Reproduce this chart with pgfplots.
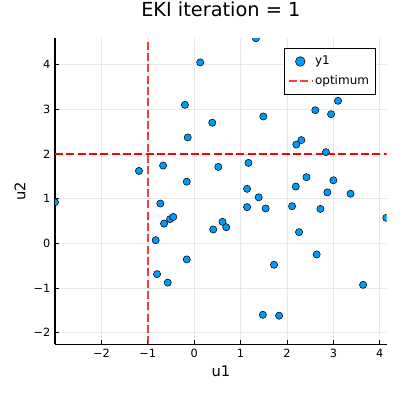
\documentclass[border=0pt]{standalone}
\usepackage{pgfplots}
\pgfplotsset{compat=1.18}
\usepackage{fontspec}
\setmainfont{DejaVu Sans}
\definecolor{c1}{RGB}{0,154,250}
\definecolor{optred}{RGB}{255,0,0}
\begin{document}
\begin{tikzpicture}
\useasboundingbox (0,0) rectangle (300pt,300pt);
\begin{axis}[
  at={(41.25pt,41.8pt)}, anchor=south west,
  scale only axis, width=248.8pt, height=229.5pt,
  xmin=-3.0, xmax=4.15, ymin=-2.26, ymax=4.59,
  axis x line=bottom, axis y line=left,
  axis line style={-, black, line width=0.8pt},
  xtick={-2,-1,0,1,2,3,4}, xticklabels={−2,−1,0,1,2,3,4},
  ytick={-2,-1,0,1,2,3,4}, yticklabels={−2,−1,0,1,2,3,4},
  tick label style={font=\fontsize{8.5}{10}\selectfont},
  tick align=inside, major tick length=3pt,
  tick style={black, line width=0.6pt},
  grid=major, grid style={black!9, line width=0.5pt},
  xlabel={u1}, ylabel={u2},
  x label style={at={(axis description cs:0.5,0)}, anchor=center, yshift=-20pt, font=\fontsize{11}{13}\selectfont},
  y label style={at={(axis description cs:-0.1055,0.5)}, anchor=center, font=\fontsize{11}{13}\selectfont},
  title={EKI iteration = 1},
  title style={at={(axis description cs:0.5,1)}, anchor=center, yshift=15.5pt, font=\fontsize{14.5}{17}\selectfont},
  clip marker paths=true,
  legend style={at={(axis description cs:0.968,0.967)}, anchor=north east,
    draw=black, line width=0.6pt, font=\fontsize{9}{11}\selectfont,
    row sep=2.5pt, inner xsep=3pt, inner ysep=3.5pt},
  legend cell align=left,
]
\addplot[only marks, mark=*, mark size=2.7pt, mark options={fill=c1, draw=black, line width=0.4pt},
  legend image post style={mark size=3.6pt}] coordinates {
(0.13,4.05) (-0.20,3.10) (0.39,2.70) (-0.14,2.37) (-1.19,1.62) (-0.67,1.74)
(-0.16,1.38) (0.52,1.71) (1.33,4.59) (1.49,2.84) (2.61,2.98) (3.10,3.19)
(2.95,2.89) (2.31,2.31) (2.20,2.21) (2.84,2.04) (1.17,1.80) (2.42,1.48)
(3.00,1.41) (1.14,1.22) (2.19,1.27) (1.39,1.03) (2.87,1.14) (3.37,1.11)
(1.14,0.81) (1.54,0.78) (2.11,0.83) (2.72,0.77) (4.14,0.57) (0.61,0.48)
(0.41,0.31) (0.69,0.36) (2.26,0.25) (2.64,-0.25) (1.72,-0.48) (3.64,-0.93)
(1.48,-1.60) (1.83,-1.62) (-3.0,0.92) (-0.73,0.89) (-0.52,0.54) (-0.45,0.59)
(-0.65,0.44) (-0.83,0.07) (-0.16,-0.36) (-0.80,-0.69) (-0.57,-0.88) (-0.84,-2.28)
};
\addlegendentry{y1}
\addplot[draw=optred, line width=1.1pt, dash pattern=on 6pt off 2.5pt, opacity=0.75] coordinates {
(-1,-2.26) (-1,0) (-1,2) (-1,4.59)
};
\addlegendentry{optimum}
\addplot[draw=optred, line width=0.9pt, dash pattern=on 6pt off 2.5pt, forget plot] coordinates {
(-3.0,2) (4.15,2)
};
\end{axis}
\end{tikzpicture}
\end{document}
